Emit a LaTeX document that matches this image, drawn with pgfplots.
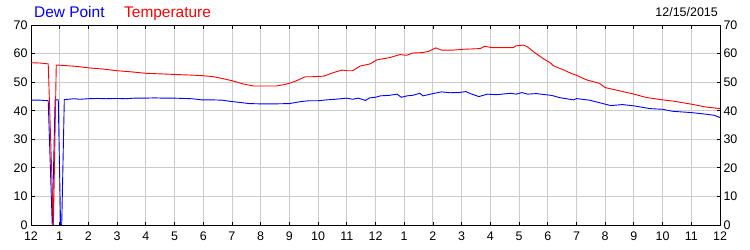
\documentclass[border=0pt]{standalone}
\usepackage{fontspec}
\setmainfont{Liberation Sans}
\usepackage{pgfplots}
\pgfplotsset{compat=1.18}
\begin{document}
\begin{tikzpicture}
\useasboundingbox (-31bp,-25bp) rectangle (719bp,225bp);
\pgfplotsset{common/.style={
  scale only axis, width=689bp, height=200bp,
  xmin=0, xmax=24, ymin=0, ymax=70,
  at={(0,0)}, anchor=south west,
  ytick={0,10,...,70},
  ticklabel style={font=\fontsize{12.5}{14}\selectfont, text=black},
  /pgf/number format/assume math mode=true,
}}
\begin{axis}[common,
  xtick={0,1,...,24},
  xticklabels={12,1,2,3,4,5,6,7,8,9,10,11,12,1,2,3,4,5,6,7,8,9,10,11,12},
  grid=major, major grid style={draw={rgb,255:red,204;green,204;blue,204}, line width=0.9bp},
  tick pos=both, tick align=inside, major tick length=3.5bp,
  tick style={black, line width=0.8bp},
  axis line style={black, line width=1bp},
  yticklabel pos=left,
  xticklabel style={yshift=-3bp},
]
\addplot[blue, line width=0.9bp] coordinates {
(0,43.7) (0.3,43.7) (0.6,43.5) (0.74,0) (0.84,43.8) (0.95,43.8) (1.03,0) (1.07,0) (1.16,43.9)
(1.3,44.0) (1.5,44.2) (1.7,44.0) (2.0,44.2) (2.3,44.3) (2.6,44.2) (3.0,44.3) (3.3,44.2) (3.6,44.4)
(4.0,44.4) (4.3,44.5) (4.6,44.4) (5.0,44.4) (5.3,44.3) (5.6,44.2) (5.95,43.8) (6.3,43.8) (6.65,43.7)
(7.0,43.2) (7.2,43.0) (7.6,42.5) (8.0,42.4) (8.5,42.4) (9.0,42.5) (9.4,43.2) (9.7,43.5) (10.0,43.5)
(10.3,43.8) (10.6,44.0) (10.8,44.2) (11.0,44.4) (11.2,44.0) (11.4,44.4) (11.65,43.6) (11.8,44.5) (12.0,44.7)
(12.17,45.2) (12.5,45.4) (12.75,45.8) (12.9,44.7) (13.1,45.2) (13.3,45.4) (13.55,46.1) (13.65,45.2)
(14.05,46.1) (14.3,46.6) (14.6,46.3) (14.9,46.35) (15.15,46.7) (15.3,46.0) (15.6,44.95) (15.9,45.8)
(16.2,45.6) (16.7,46.1) (16.9,45.8) (17.1,46.35) (17.3,45.8) (17.6,46.0) (18.1,45.4) (18.2,45.2)
(18.4,44.6) (18.9,43.8) (19.0,44.25) (19.45,43.7) (20.0,42.3) (20.2,41.8) (20.6,42.15) (21.0,41.7)
(21.55,40.75) (22.0,40.5) (22.35,39.8) (23.0,39.35) (23.5,38.8) (23.8,38.4) (24.0,37.6)
};
\addplot[red, line width=0.9bp] coordinates {
(0,56.8) (0.3,56.7) (0.6,56.4) (0.78,0) (0.88,56.0) (1.2,55.8) (1.6,55.5) (2.0,55.0) (2.5,54.6)
(3.0,54.0) (3.5,53.6) (4.0,53.1) (4.5,52.9) (5.0,52.7) (5.5,52.5) (5.95,52.3) (6.35,51.9) (6.7,51.2)
(7.0,50.5) (7.4,49.35) (7.75,48.65) (8.55,48.65) (8.8,49.1) (9.0,49.6) (9.25,50.5) (9.55,51.9)
(9.8,51.9) (10.2,52.1) (10.55,53.4) (10.84,54.25) (11.0,54.0) (11.2,54.0) (11.47,55.65) (11.8,56.35)
(12.05,57.8) (12.5,58.6) (12.85,59.65) (13.08,59.4) (13.3,60.2) (13.65,60.35) (13.85,60.8) (14.1,62.0)
(14.3,61.2) (14.7,61.2) (15.05,61.5) (15.65,61.75) (15.8,62.55) (16.05,62.1) (16.8,62.1) (16.9,62.7)
(17.15,63.0) (17.3,62.3) (17.55,60.3) (17.85,58.2) (18.1,56.7) (18.2,55.7) (18.55,54.3) (18.83,53.0)
(19.0,52.4) (19.35,50.8) (19.8,49.6) (20.0,48.1) (20.4,47.2) (21.0,45.8) (21.45,44.6) (22.0,43.8)
(22.35,43.4) (23.0,42.3) (23.5,41.3) (24.0,40.75)
};
\end{axis}
\begin{axis}[common,
  xtick=\empty,
  yticklabel pos=right,
  axis line style={draw=none},
  tick style={draw=none},
]
\end{axis}
\node[anchor=base west, inner sep=0pt, text=blue, font=\fontsize{15.5}{18}\selectfont] at (3bp,207.7bp) {Dew Point};
\node[anchor=base west, inner sep=0pt, text=red, font=\fontsize{15.5}{18}\selectfont] at (93bp,207.7bp) {Temperature};
\node[anchor=base east, inner sep=0pt, text=black, font=\fontsize{12.5}{14}\selectfont] at (687bp,208.3bp) {12/15/2015};
\end{tikzpicture}
\end{document}
